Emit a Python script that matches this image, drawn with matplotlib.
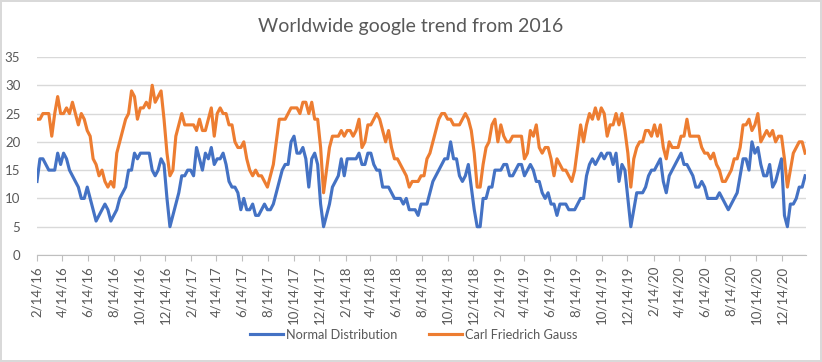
import matplotlib.pyplot as plt
import matplotlib.dates as mdates
from matplotlib.ticker import FuncFormatter
import pandas as pd

plt.rcParams['font.family'] = ['Lato', 'DejaVu Sans']

# weekly google trend values, first week 2/14/16
start_date = '2016-02-14'

normal_distribution = [
    13, 17, 17, 16, 15, 15, 15, 18, 16, 18,
    17, 15, 14, 13, 12, 10, 10, 12, 10, 8,
    6, 7, 8, 9, 8, 6, 7, 8, 10, 11,
    12, 15, 15, 18, 17, 18, 18, 18, 18, 15,
    14, 15, 17, 16, 10, 5, 7, 9, 11, 14,
    14, 15, 15, 14, 19, 17, 15, 18, 17, 19,
    16, 17, 17, 18, 16, 13, 12, 12, 11, 8,
    10, 8, 8, 9, 7, 7, 8, 9, 8, 8,
    9, 11, 13, 15, 16, 16, 20, 21, 18, 18,
    19, 17, 12, 17, 18, 16, 9, 5, 7, 9,
    12, 13, 14, 17, 14, 17, 17, 17, 17, 18,
    16, 16, 18, 18, 16, 15, 15, 12, 12, 12,
    11, 10, 10, 10, 9, 10, 8, 8, 8, 7,
    9, 9, 9, 11, 13, 14, 15, 16, 17, 17,
    20, 17, 17, 14, 13, 14, 16, 12, 8, 5,
    5, 10, 10, 12, 12, 15, 15, 15, 16, 16,
    14, 14, 15, 16, 16, 14, 15, 16, 15, 13,
    13, 11, 10, 11, 9, 9, 7, 9, 9, 9,
    8, 8, 8, 9, 10, 10, 14, 16, 17, 16,
    17, 18, 17, 18, 18, 16, 18, 13, 16, 15,
    10, 5, 8, 11, 11, 11, 12, 14, 15, 15,
    16, 17, 13, 11, 14, 15, 16, 17, 18, 16,
    16, 15, 14, 12, 12, 13, 12, 10, 10, 10,
    10, 11, 10, 9, 8, 9, 10, 11, 14, 17,
    17, 15, 20, 18, 19, 16, 14, 14, 16, 12,
    13, 15, 17, 7, 5, 9, 9, 10, 12, 12, 14,
]

carl_friedrich_gauss = [
    24, 24, 25, 25, 25, 21, 25, 28, 25, 25,
    26, 25, 27, 25, 23, 25, 24, 22, 21, 17,
    16, 14, 15, 13, 12, 13, 12, 18, 20, 22,
    24, 25, 29, 28, 24, 26, 26, 27, 26, 30,
    27, 28, 29, 24, 18, 14, 15, 21, 23, 25,
    23, 23, 23, 23, 22, 24, 22, 22, 24, 26,
    21, 25, 26, 25, 25, 23, 23, 20, 19, 19,
    20, 17, 15, 14, 15, 14, 14, 13, 12, 14,
    16, 20, 24, 24, 24, 25, 26, 26, 26, 25,
    27, 27, 25, 27, 24, 24, 19, 11, 15, 19,
    21, 21, 21, 22, 21, 22, 22, 21, 22, 24,
    19, 20, 23, 23, 24, 25, 24, 22, 20, 22,
    19, 17, 17, 16, 15, 14, 12, 13, 13, 13,
    14, 14, 17, 18, 20, 22, 24, 25, 25, 24,
    24, 23, 23, 23, 24, 25, 24, 22, 18, 12,
    12, 16, 19, 20, 23, 24, 20, 23, 21, 20,
    20, 21, 21, 21, 21, 17, 18, 22, 21, 23,
    19, 18, 19, 19, 17, 14, 17, 16, 15, 15,
    14, 13, 15, 19, 23, 20, 23, 25, 24, 26,
    24, 26, 25, 21, 23, 23, 25, 23, 25, 22,
    18, 12, 17, 19, 20, 20, 22, 22, 21, 23,
    21, 23, 19, 17, 20, 19, 19, 19, 21, 21,
    24, 21, 21, 21, 21, 19, 18, 18, 17, 18,
    16, 15, 13, 13, 14, 15, 17, 17, 19, 23,
    23, 24, 22, 23, 25, 20, 21, 22, 21, 22,
    20, 21, 21, 17, 12, 15, 18, 19, 20, 20, 18,
]

dates = pd.date_range(start_date, periods=len(normal_distribution), freq='7D')

text_gray = '#595959'
grid_gray = '#D9D9D9'

fig = plt.figure(figsize=(8.22, 3.62), dpi=100)
fig.patch.set_edgecolor(grid_gray)
fig.patch.set_linewidth(1.5)
ax = fig.add_axes([0.045, 0.2956, 0.9355, 0.547])

ax.plot(dates, normal_distribution, color='#4472C4', lw=2.25,
        solid_joinstyle='round', label='Normal Distribution')
ax.plot(dates, carl_friedrich_gauss, color='#ED7D31', lw=2.25,
        solid_joinstyle='round', label='Carl Friedrich Gauss')

ax.set_ylim(0, 35)
ax.set_yticks(range(0, 36, 5))
ax.set_xlim(dates[0], dates[-1] + pd.Timedelta(days=2))
ax.xaxis.set_major_locator(mdates.MonthLocator(bymonth=[2, 4, 6, 8, 10, 12], bymonthday=14))


def fmt_date(v, pos):
    d = mdates.num2date(v)
    return f"{d.month}/{d.day}/{d.strftime('%y')}"


ax.xaxis.set_major_formatter(FuncFormatter(fmt_date))
ax.tick_params(axis='x', rotation=90, labelsize=9.5, colors=text_gray,
               length=4, color='#BFBFBF', pad=4)
ax.tick_params(axis='y', labelsize=9.5, colors=text_gray, length=0, pad=12)

ax.grid(axis='y', color=grid_gray, lw=1)
ax.set_axisbelow(True)
for side in ['top', 'right', 'left']:
    ax.spines[side].set_visible(False)
ax.spines['bottom'].set_color('#BFBFBF')

fig.suptitle('Worldwide google trend from 2016', y=0.95, fontsize=14, color=text_gray)
fig.legend(loc='center', bbox_to_anchor=(0.503, 0.075), ncol=2, frameon=False,
           fontsize=9.2, handlelength=2.6, columnspacing=2.5, handletextpad=0.2,
           labelcolor=text_gray)

fig.savefig('out.png', dpi=100, edgecolor=fig.get_edgecolor())
